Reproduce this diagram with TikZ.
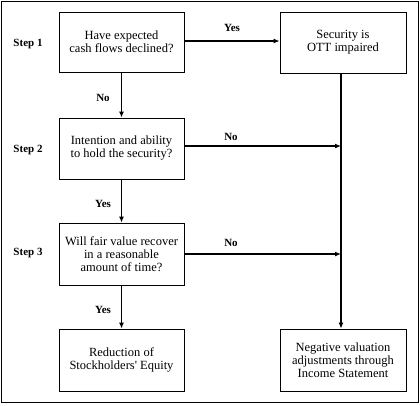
\documentclass[tikz,border=0pt]{standalone}
\usepackage{fontspec}
\setmainfont{Liberation Serif}[Ligatures=TeXOff]
\usetikzlibrary{arrows.meta}
\begin{document}
\begin{tikzpicture}[x=1pt,y=-1pt,
  box/.style={draw,line width=0.8pt,align=center,font=\fontsize{12.5}{13}\selectfont,inner sep=0pt},
  lbox/.style={box,minimum width=125pt},
  rbox/.style={box,minimum width=126pt},
  steplbl/.style={font=\fontsize{11}{13}\selectfont\bfseries},
  edgelbl/.style={font=\fontsize{11}{13}\selectfont\bfseries},
  conn/.style={line width=1.6pt,-{Latex[length=6pt,width=5pt]}},
  plain/.style={line width=1.6pt}]
\useasboundingbox (0,0) rectangle (420,405);
\draw[line width=0.8pt] (1.5,1.5) rectangle (418.5,402.5);
\node[lbox,minimum height=60pt] (b1) at (121.5,42) {Have expected\\cash flows declined?};
\node[lbox,minimum height=61pt] (b2) at (121.5,148.5) {Intention and ability\\to hold the security?};
\node[lbox,minimum height=62pt] (b3) at (121.5,254) {Will fair value recover\\in a reasonable\\amount of time?};
\node[lbox,minimum height=62pt] (b4) at (121.5,360) {Reduction of\\Stockholders' Equity};
\node[rbox,minimum height=61pt] (r1) at (343,42.5) {Security is\\OTT impaired};
\node[rbox,minimum height=62pt] (r2) at (343,360) {Negative valuation\\adjustments through\\Income Statement};
\node[steplbl] (s1) at (28,44) {Step 1};
\node[steplbl] (s2) at (28,150) {Step 2};
\node[steplbl] (s3) at (28,253) {Step 3};
\coordinate (vx) at (341,0);
\coordinate (j2) at (vx |- 0,146);
\coordinate (j3) at (vx |- 0,254);
\draw[conn] (b1.south) -- (b2.north);
\draw[conn] (b2.south) -- (b3.north);
\draw[conn] (b3.south) -- (b4.north);
\draw[conn] (b1.east |- 0,41) -- (r1.west |- 0,41);
\draw[conn] (b2.east |- j2) -- (j2);
\draw[conn] (b3.east |- j3) -- (j3);
\draw[conn] (r1.south -| vx) -- (r2.north -| vx);
\node[edgelbl] (l1) at (232,28) {Yes};
\node[edgelbl] (l2) at (231,137) {No};
\node[edgelbl] (l3) at (231,243) {No};
\node[edgelbl] (l4) at (103,98) {No};
\node[edgelbl] (l5) at (103,204) {Yes};
\node[edgelbl] (l6) at (103,310) {Yes};
\end{tikzpicture}
\end{document}
